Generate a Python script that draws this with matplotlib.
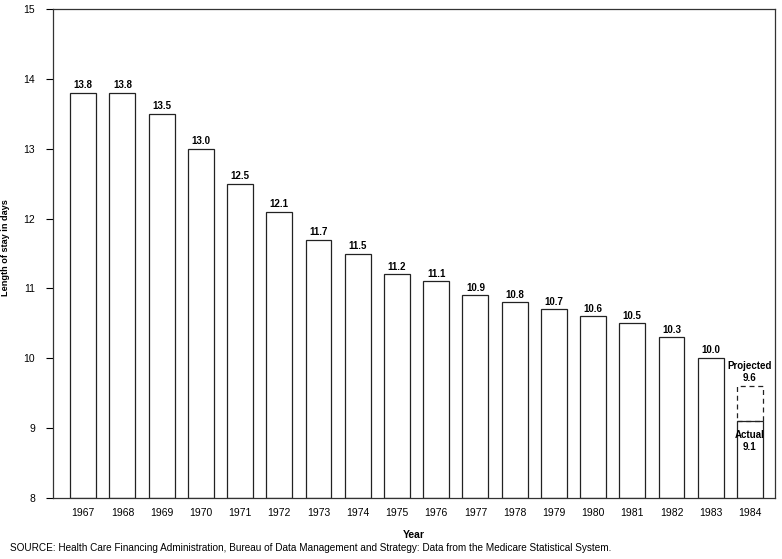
import matplotlib
matplotlib.use("Agg")
import matplotlib.pyplot as plt

plt.rcParams['font.family'] = ['Liberation Sans', 'DejaVu Sans']

years = ["1967", "1968", "1969", "1970", "1971", "1972", "1973", "1974", "1975",
         "1976", "1977", "1978", "1979", "1980", "1981", "1982", "1983", "1984"]
values = [13.8, 13.8, 13.5, 13.0, 12.5, 12.1, 11.7, 11.5, 11.2,
          11.1, 10.9, 10.8, 10.7, 10.6, 10.5, 10.3, 10.0, 9.1]
projected_1984 = 9.6
y_ticks = [8, 9, 10, 11, 12, 13, 14, 15]

fig = plt.figure(figsize=(7.82, 5.59), dpi=100)
ax = fig.add_axes([53/782, 1-498/559, (775-53)/782, (498-9)/559])

base = 8
x = list(range(len(years)))
w = 0.66
ax.bar(x, [v - base for v in values], bottom=base, width=w,
       facecolor='white', edgecolor='#222222', linewidth=0.9)

# projected dashed extension for last year
ax.bar([x[-1]], [projected_1984 - values[-1]], bottom=values[-1], width=w,
       facecolor='none', edgecolor='#222222', linewidth=0.9, linestyle=(0, (4, 3)))

for xi, v in zip(x[:-1], values[:-1]):
    ax.text(xi, v + 0.04, f"{v:.1f}", ha='center', va='bottom',
            fontsize=7, fontweight='bold')

ax.text(x[-1], projected_1984 + 0.04, f"Projected\n{projected_1984:.1f}",
        ha='center', va='bottom', fontsize=7, fontweight='bold', linespacing=1.3)
ax.text(x[-1], values[-1] - 0.12, f"Actual\n{values[-1]:.1f}",
        ha='center', va='top', fontsize=7, fontweight='bold', linespacing=1.3)

ax.set_xlim(-0.77, 17.64)
ax.set_ylim(8, 15)
ax.set_yticks(y_ticks)
ax.set_yticklabels([str(t) for t in y_ticks], fontsize=7.5)
ax.set_xticks(x)
ax.set_xticklabels(years, fontsize=7.5)
ax.tick_params(axis='x', length=0, pad=7)
ax.tick_params(axis='y', length=5, width=0.8, pad=8, direction='out')

for s in ax.spines.values():
    s.set_linewidth(0.9)
    s.set_color('#333333')

ax.set_xlabel("Year", fontsize=7.5, fontweight='bold')
ax.xaxis.set_label_coords(0.5, -(530 - 498) / 489)
ax.set_ylabel("Length of stay in days", fontsize=6.6, fontweight='bold')
ax.yaxis.set_label_coords((10 - 53) / 722, (498 - 248) / 489)

fig.text(10/782, 1-548/559, "SOURCE: Health Care Financing Administration, Bureau of Data Management and Strategy: Data from the Medicare Statistical System.",
         fontsize=7.2, ha='left', va='center')

fig.savefig("out.png", dpi=100)
